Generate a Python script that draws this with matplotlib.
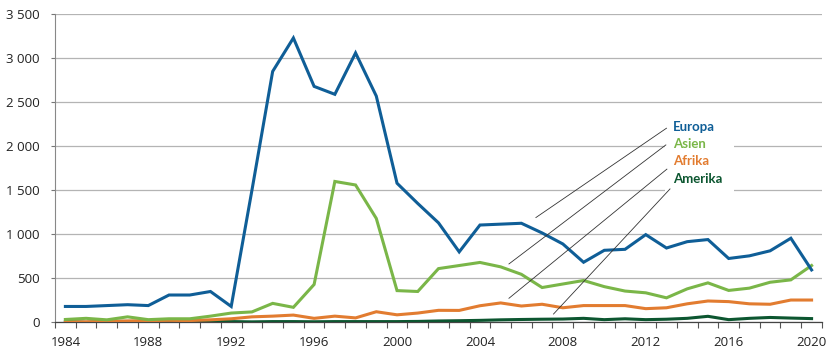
import numpy as np
import matplotlib
matplotlib.use("Agg")
import matplotlib.pyplot as plt
from matplotlib.ticker import FuncFormatter, FixedLocator
from matplotlib.patches import Rectangle

years = list(range(1984, 2021))

europa = [180, 180, 190, 200, 190, 310, 310, 350, 180, 1500,
          2850, 3230, 2680, 2590, 3060, 2570, 1580, 1350, 1130, 800,
          1105, 1115, 1125, 1015, 890, 682, 818, 829, 996, 844,
          916, 940, 725, 755, 812, 955, 595]
asien = [32, 45, 28, 62, 30, 40, 40, 70, 105, 118,
         215, 170, 430, 1600, 1560, 1180, 360, 350, 610, 645,
         680, 630, 545, 395, 435, 475, 405, 355, 335, 278,
         380, 448, 362, 388, 455, 482, 645]
afrika = [5, 5, 10, 15, 20, 22, 20, 28, 40, 62,
          70, 82, 45, 70, 50, 120, 85, 105, 136, 135,
          188, 220, 185, 205, 165, 190, 190, 190, 155, 165,
          210, 242, 235, 210, 205, 253, 253]
amerika = [10, 0, 12, 10, 8, 8, 8, 10, 8, 5,
           8, 8, 6, 8, 8, 8, 8, 10, 15, 18,
           22, 28, 32, 35, 37, 45, 30, 40, 30, 35,
           45, 68, 30, 45, 55, 48, 42]

series = [("Europa", europa, "#0f5e97"),
          ("Asien", asien, "#7ab648"),
          ("Afrika", afrika, "#e27c30"),
          ("Amerika", amerika, "#0c5630")]

# where the leader lines start (label side) and end (on the chart)
leader_start = [(2013.0, 2205), (2012.97, 2015), (2013.02, 1740), (2013.17, 1515)]
leader_end = [(2006.7, 1190), (2005.4, 663), (2005.4, 273), (2007.55, 94)]
label_pos = [(2013.3, 2216), (2013.3, 2026), (2013.3, 1833), (2013.3, 1628)]

plt.rcParams["font.family"] = ["Open Sans", "DejaVu Sans"]

fig = plt.figure(figsize=(8.4, 3.57), dpi=100)
ax = fig.add_axes([0.0655, 0.0972, 0.913, 0.863])

for name, vals, col in series[::-1]:
    ax.plot(years, vals, color=col, lw=2.2, zorder=3, solid_joinstyle="miter")

ax.set_xlim(1983.5, 2020.5)
ax.set_ylim(0, 3500)
ax.set_yticks(np.arange(0, 3501, 500))
ax.yaxis.set_major_formatter(FuncFormatter(lambda v, p: f"{int(v):,}".replace(",", " ")))
ax.set_xticks(list(range(1984, 2021, 4)))
ax.xaxis.set_minor_locator(FixedLocator(np.arange(1983.5, 2021, 1.0)))
ax.tick_params(axis="x", which="major", length=0, pad=10, labelsize=9.5, colors="#222222")
ax.tick_params(axis="x", which="minor", length=4.5, width=0.8, color="#555555")
ax.tick_params(axis="y", length=3, width=0.8, color="#777777", pad=8, labelsize=9.5, labelcolor="#222222")

ax.grid(axis="y", color="#b4b4b4", lw=0.9)
ax.set_axisbelow(True)
for s in ["top", "right"]:
    ax.spines[s].set_visible(False)
ax.spines["left"].set_color("#888888")
ax.spines["left"].set_linewidth(0.8)
ax.spines["bottom"].set_color("#444444")
ax.spines["bottom"].set_linewidth(0.9)

# white box behind the label block
ax.add_patch(Rectangle((2012.95, 1430), 3.3, 870, facecolor="white",
                       edgecolor="none", zorder=1))

for (name, vals, col), p0, p1, lp in zip(series, leader_start, leader_end, label_pos):
    ax.plot([p0[0], p1[0]], [p0[1], p1[1]], color="#333333", lw=0.6, zorder=4)
    ax.text(lp[0], lp[1], name, color=col, fontsize=9.5, fontweight="bold",
            family=["Lato", "DejaVu Sans"], va="center", ha="left", zorder=5)

fig.savefig("out.png", dpi=100)
